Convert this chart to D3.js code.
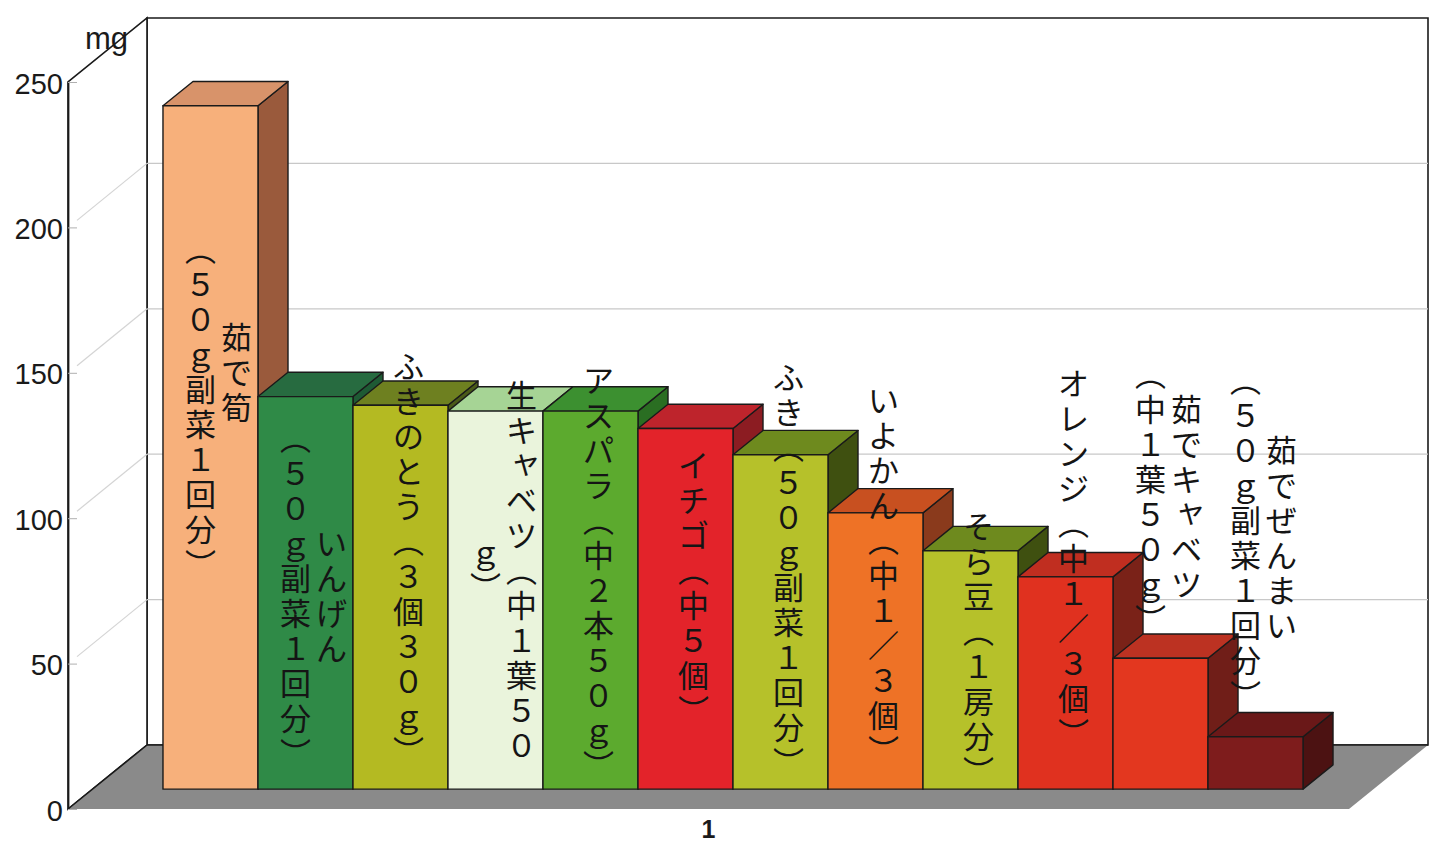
<!DOCTYPE html>
<html><head><meta charset="utf-8">
<script src="https://cdn.jsdelivr.net/npm/d3@7"></script>
<style>
html,body{margin:0;padding:0;background:#fff;}
svg{display:block;}
.vch{font-family:"Noto Sans CJK JP","Noto Sans CJK SC",sans-serif;font-size:31px;fill:#151515;}
.ax text{font-family:"Liberation Sans Narrow","Arial Narrow","Liberation Sans",sans-serif;font-size:29px;fill:#1a1a1a;}
</style></head><body>
<svg id="chart" width="1447" height="842"></svg>
<script>
// ---- data ----
const categories = [
  "茹で筍　　\n（５０ｇ副菜１回分）",
  "いんげん\n（５０ｇ副菜１回分）",
  "ふきのとう（３個３０ｇ）",
  "生キャベツ（中１葉５０\nｇ）",
  "アスパラ（中２本５０ｇ）",
  "イチゴ（中５個）",
  "ふき（５０ｇ副菜１回分）",
  "いよかん（中１／３個）",
  "そら豆（１房分）",
  "オレンジ（中１／３個）",
  "茹でキャベツ\n（中１葉５０ｇ）",
  "茹でぜんまい\n（５０ｇ副菜１回分）"
];
const values = [235, 135, 132, 130, 130, 124, 115, 95, 82, 73, 45, 18];
const yTicks = [0, 50, 100, 150, 200, 250];
const xTickLabels = ["1"];
const unitLabel = "mg";
// label anchor heights (mg) – layout only
const labelCentreMg = [132, 67, 80, 76, 75, 70, 76, 74, 49, 80, 101, 87];
// styles
const barColors = [
  {front:"#F7B07B", top:"#D8936A", side:"#9A5A3C"},
  {front:"#2F8A47", top:"#276B40", side:"#1E5A34"},
  {front:"#B4BA22", top:"#6E8020", side:"#4A5A18"},
  {front:"#EAF4DC", top:"#A6D495", side:"#78B468"},
  {front:"#5CAA2E", top:"#3C9030", side:"#2A6E22"},
  {front:"#E3232A", top:"#BE242C", side:"#8C1C22"},
  {front:"#B6C12A", top:"#6E8A1E", side:"#3F5010"},
  {front:"#EE7226", top:"#C85020", side:"#8A3A1C"},
  {front:"#B6C12A", top:"#6E8A1E", side:"#3F5010"},
  {front:"#E0311F", top:"#C02E20", side:"#7A2218"},
  {front:"#E3371F", top:"#BC3222", side:"#701E18"},
  {front:"#7E1C1C", top:"#6A1818", side:"#4C1212"}
];

// ---- geometry ----
const DX = 79, DY = 64;      // depth vector of the plot box
const D0 = 0.31, D1 = 0.69;  // bar depth range
const X0 = 68, X1 = 1349;
const y = d3.scaleLinear().domain([0, 250]).range([809, 82]);
const x = d3.scaleBand().domain(categories).range([X0, X1]).paddingInner(0).paddingOuter(0.742);
const P = (px, v, d) => [px + d * DX, y(v) - d * DY];
const poly = pts => "M" + pts.map(p => p.join(",")).join("L") + "Z";

const svg = d3.select("#chart");

// back wall
svg.append("path").attr("d", poly([P(X0,0,1), P(X0,250,1), P(X1,250,1), P(X1,0,1)]))
  .attr("fill", "#fff").attr("stroke", "#1a1a1a").attr("stroke-width", 1.6);
// left wall
svg.append("path").attr("d", poly([P(X0,0,0), P(X0,250,0), P(X0,250,1), P(X0,0,1)]))
  .attr("fill", "#fff").attr("stroke", "#1a1a1a").attr("stroke-width", 1.6);

// gridlines
const inner = yTicks.filter(t => t > 0 && t < 250);
svg.append("g").selectAll("line").data(inner).join("line")
  .attr("x1", t => P(X0,t,1)[0]).attr("y1", t => P(X0,t,1)[1])
  .attr("x2", t => P(X1,t,1)[0]).attr("y2", t => P(X1,t,1)[1])
  .attr("stroke", "#c8c8c8").attr("stroke-width", 1.3);
svg.append("g").selectAll("line").data(inner).join("line")
  .attr("x1", t => P(X0,t,0)[0] + 9).attr("y1", t => P(X0,t,0)[1] - 7)
  .attr("x2", t => P(X0,t,1)[0]).attr("y2", t => P(X0,t,1)[1])
  .attr("stroke", "#d4d4d4").attr("stroke-width", 1.2);

// floor
svg.append("path").attr("d", poly([P(X0,0,0), P(X0,0,1), P(X1,0,1), P(X1,0,0)]))
  .attr("fill", "#8a8a8a").attr("stroke", "none");
svg.append("line")
  .attr("x1", P(X0,0,0)[0]).attr("y1", P(X0,0,0)[1])
  .attr("x2", P(X0,0,1)[0]).attr("y2", P(X0,0,1)[1])
  .attr("stroke", "#1a1a1a").attr("stroke-width", 1.6);
svg.append("line")
  .attr("x1", P(X0,0,1)[0]).attr("y1", P(X0,0,1)[1])
  .attr("x2", P(X1,0,1)[0]).attr("y2", P(X1,0,1)[1])
  .attr("stroke", "#1a1a1a").attr("stroke-width", 1.6);

// bars
const bars = svg.append("g").selectAll("g").data(categories).join("g");
bars.each(function(c, i) {
  const g = d3.select(this);
  const v = values[i];
  const xa = x(c), xb = x(c) + x.bandwidth();
  const col = barColors[i];
  g.append("path").attr("d", poly([P(xb,0,D0), P(xb,0,D1), P(xb,v,D1), P(xb,v,D0)]))
    .attr("fill", col.side);
  g.append("path").attr("d", poly([P(xa,v,D0), P(xb,v,D0), P(xb,v,D1), P(xa,v,D1)]))
    .attr("fill", col.top);
  g.append("path").attr("d", poly([P(xa,0,D0), P(xb,0,D0), P(xb,v,D0), P(xa,v,D0)]))
    .attr("fill", col.front);
  g.selectAll("path").attr("stroke", "#1a1a1a").attr("stroke-width", 1.4).attr("stroke-linejoin", "round");
});

// vertical labels: one <text> per column, glyphs positioned top-to-bottom
const COL = 36, ADV = 35;
const small = new Set(Array.from("ャュョッァィゥェォゃゅょっぁぃぅぇぉ"));
const vform = {"（": "︵", "）": "︶"};
const labels = svg.append("g");
bars.each(function(c, i) {
  const lines = c.split("\n");
  const n = lines.length;
  const cx = x(c) + x.bandwidth() / 2 + D0 * DX + 8;
  const cy = P(0, labelCentreMg[i], D0)[1];
  lines.forEach((ln, j) => {
    const chars = Array.from(ln).map(ch => vform[ch] || ch);
    const colX = cx + ((n - 1) / 2 - j) * COL;
    const top = cy - chars.length * ADV / 2;
    const xs = chars.map(ch => colX + (small.has(ch) ? 4 : 0));
    const ys = chars.map((ch, k) => top + (k + 0.5) * ADV - (small.has(ch) ? 4 : 0));
    labels.append("text").attr("class", "vch")
      .attr("text-anchor", "middle").attr("dominant-baseline", "central")
      .attr("x", xs.join(" ")).attr("y", ys.join(" "))
      .text(chars.join(""));
  });
});

// y axis
const ax = svg.append("g").attr("class", "ax").attr("transform", `translate(${X0},0)`)
  .call(d3.axisLeft(y).tickValues(yTicks).tickSize(-9).tickSizeOuter(0).tickPadding(5).tickFormat(d3.format("d")));
ax.select(".domain").attr("stroke", "#1a1a1a").attr("stroke-width", 1.8);
ax.selectAll(".tick line").attr("stroke", "#b0b0b0");
ax.selectAll(".tick text").attr("dy", "0.38em");

// unit label
svg.append("text").attr("x", X0 + 17).attr("y", y(250) - 33)
  .attr("font-family", "\"Liberation Sans Narrow\",\"Arial Narrow\",\"Liberation Sans\",sans-serif")
  .attr("font-size", 31).attr("fill", "#1a1a1a").text(unitLabel);

// x tick label
svg.append("text").attr("x", (X0 + X1) / 2).attr("y", 838)
  .attr("text-anchor", "middle")
  .attr("font-family", "\"Liberation Sans Narrow\",\"Arial Narrow\",\"Liberation Sans\",sans-serif")
  .attr("font-weight", "bold").attr("font-size", 25).attr("fill", "#1a1a1a").text(xTickLabels[0]);
</script>
</body></html>
